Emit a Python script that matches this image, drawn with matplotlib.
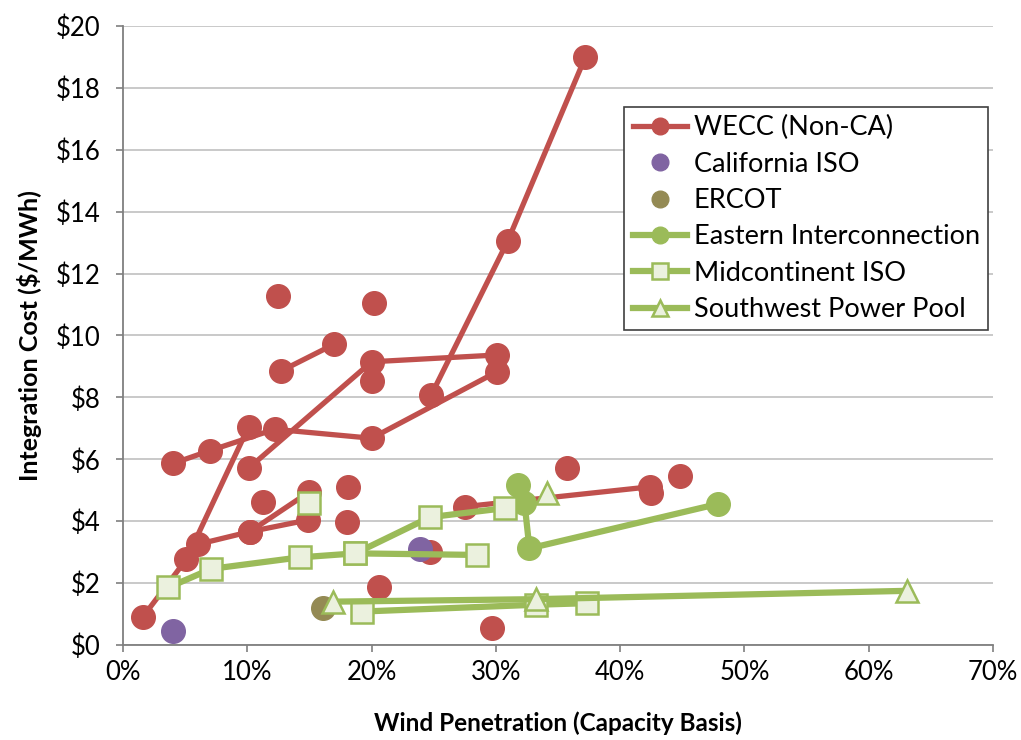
import matplotlib
matplotlib.use('Agg')
import matplotlib.pyplot as plt
from matplotlib.ticker import FuncFormatter, MultipleLocator

plt.rcParams['font.family'] = ['Lato', 'DejaVu Sans']

# Wind penetration (%), integration cost ($/MWh)
# WECC (Non-CA): each study drawn as its own connected line
wecc_lines_x = [
    [1.6, 5.1, 10.1],
    [6.0, 10.2, 14.9],
    [10.2, 15.0],
    [4.05, 7.0, 12.2, 20.0, 30.1],
    [10.1, 20.0, 30.1],
    [24.8, 30.95, 37.2],
    [12.7, 17.0],
    [27.5, 42.4],
]
wecc_lines_y = [
    [0.91, 2.77, 7.05],
    [3.25, 3.66, 4.04],
    [3.66, 4.95],
    [5.87, 6.28, 6.97, 6.68, 8.83],
    [5.71, 9.15, 9.37],
    [8.08, 13.05, 19.0],
    [8.85, 9.72],
    [4.47, 5.11],
]
wecc_pts_x = [12.47, 20.2, 20.0, 11.3, 18.1, 18.0, 24.7, 20.6, 29.7, 35.7, 44.8, 42.5]
wecc_pts_y = [11.28, 11.05, 8.53, 4.63, 5.11, 3.98, 3.01, 1.88, 0.56, 5.71, 5.46, 4.9]

caiso_x = [4.05, 23.9]
caiso_y = [0.46, 3.10]

ercot_x = [16.1]
ercot_y = [1.21]

eastern_x = [31.8, 32.3, 32.7, 47.9]
eastern_y = [5.17, 4.60, 3.12, 4.56]

miso_lines_x = [
    [3.65, 7.1, 14.2, 18.7, 24.7, 30.7],
    [18.7, 28.45],
    [15.0],
    [19.2, 33.2, 37.3],
]
miso_lines_y = [
    [1.86, 2.46, 2.83, 2.96, 4.13, 4.42],
    [2.96, 2.91],
    [4.58],
    [1.08, 1.30, 1.35],
]

spp_lines_x = [
    [16.9, 33.2, 63.1],
    [34.1],
]
spp_lines_y = [
    [1.40, 1.48, 1.75],
    [4.90],
]

red = '#C0504D'
purple = '#8064A2'
olive = '#948A54'
green = '#9BBB59'
pale = '#EBF1DE'

fig = plt.figure(figsize=(10.21, 7.4), dpi=100)
ax = fig.add_axes([0.1205, 0.1284, 0.8521, 0.8365])

# WECC
for i, (xs, ys) in enumerate(zip(wecc_lines_x, wecc_lines_y)):
    ax.plot(xs, ys, color=red, lw=3.8, marker='o', ms=17, mfc=red, mec=red,
            label='WECC (Non-CA)' if i == 0 else None, zorder=3)
ax.plot(wecc_pts_x, wecc_pts_y, ls='none', marker='o', ms=17, mfc=red, mec=red, zorder=3)

# California ISO and ERCOT
ax.plot(caiso_x, caiso_y, ls='none', marker='o', ms=17, color=purple, label='California ISO', zorder=4)
ax.plot(ercot_x, ercot_y, ls='none', marker='o', ms=17, color=olive, label='ERCOT', zorder=4)

# Eastern Interconnection
ax.plot(eastern_x, eastern_y, color=green, lw=4.5, marker='o', ms=17, mfc=green, mec=green,
        label='Eastern Interconnection', zorder=5)

# Midcontinent ISO
for i, (xs, ys) in enumerate(zip(miso_lines_x, miso_lines_y)):
    ax.plot(xs, ys, color=green, lw=4.5, marker='s', ms=15.5, mfc=pale, mec=green, mew=1.8,
            label='Midcontinent ISO' if i == 0 else None, zorder=6)

# Southwest Power Pool
for i, (xs, ys) in enumerate(zip(spp_lines_x, spp_lines_y)):
    ax.plot(xs, ys, color=green, lw=4.5, marker='^', ms=16, mfc=pale, mec=green, mew=1.8,
            label='Southwest Power Pool' if i == 0 else None, zorder=7)

ax.set_xlim(0, 70)
ax.set_ylim(0, 20)
ax.xaxis.set_major_locator(MultipleLocator(10))
ax.yaxis.set_major_locator(MultipleLocator(2))
ax.xaxis.set_major_formatter(FuncFormatter(lambda v, p: '%d%%' % round(v)))
ax.yaxis.set_major_formatter(FuncFormatter(lambda v, p: '$%d' % round(v)))
ax.tick_params(axis='both', labelsize=18.5, length=5, width=1.2, color='#7f7f7f', direction='out')
ax.tick_params(axis='y', pad=11)
ax.tick_params(axis='x', pad=6)
ax.grid(axis='y', color='#c0c0c0', lw=1.2)
ax.set_axisbelow(True)
for s in ['top', 'right']:
    ax.spines[s].set_visible(False)
for s in ['left', 'bottom']:
    ax.spines[s].set_color('#7f7f7f')
    ax.spines[s].set_linewidth(1.3)

ax.set_xlabel('Wind Penetration (Capacity Basis)', fontsize=17.5, fontweight='bold', labelpad=19)
ax.set_ylabel('Integration Cost ($/MWh)', fontsize=18, fontweight='bold', labelpad=10)

leg = ax.legend(loc='upper right', bbox_to_anchor=(0.994, 0.869), fontsize=19.5,
                frameon=True, fancybox=False, edgecolor='#404040', framealpha=1,
                handlelength=2.0, handletextpad=0.25, borderpad=0.3, labelspacing=0.42,
                borderaxespad=0)
leg.get_frame().set_linewidth(1.2)
for h in leg.legend_handles:
    h.set_markersize(12)

fig.savefig('out.png', dpi=100)
